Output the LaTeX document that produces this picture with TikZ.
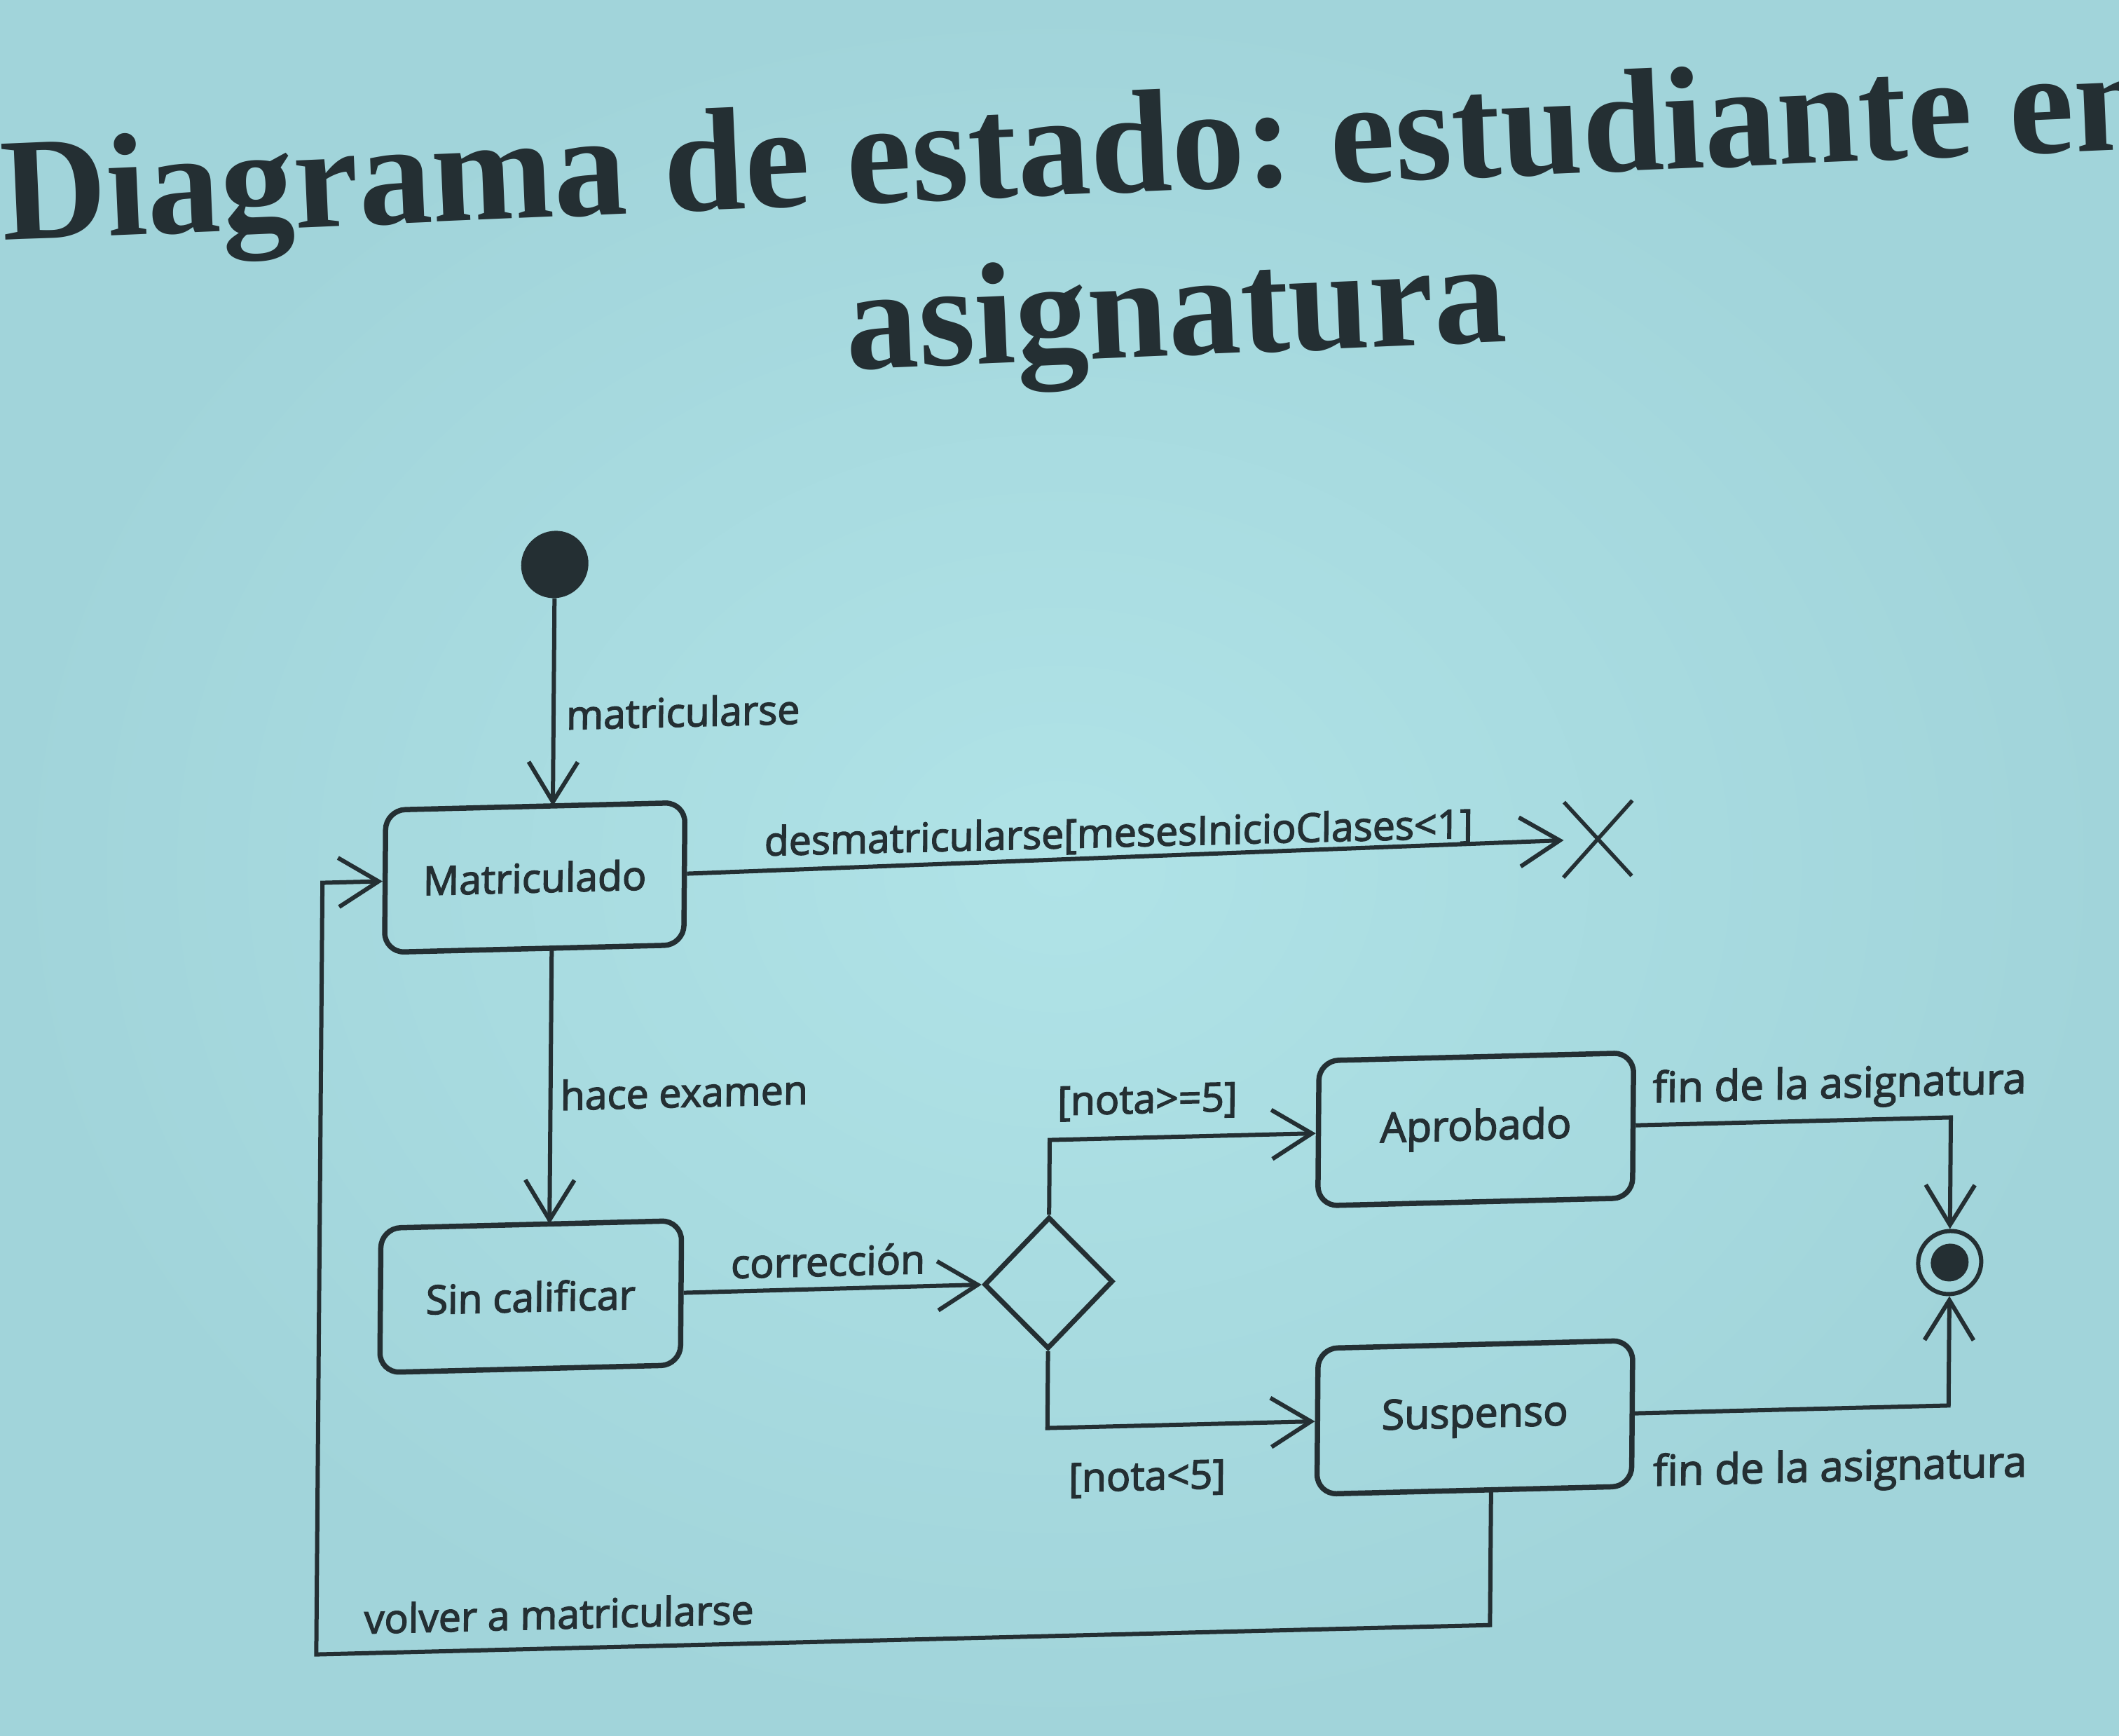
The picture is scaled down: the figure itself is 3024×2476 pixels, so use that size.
\documentclass[tikz,border=0pt]{standalone}
\usepackage{fontspec}
\usetikzlibrary{arrows.meta,shapes.geometric,shapes.misc}
\setmainfont{Liberation Serif}
\newfontfamily\lblfont{Open Sans}[RawFeature={embolden=2.5}]
\definecolor{ink}{RGB}{36,47,51}
\definecolor{bgin}{RGB}{176,227,231}
\definecolor{bgout}{RGB}{161,212,218}
\begin{document}
\begin{tikzpicture}[x=1pt,y=-1pt,
  titlefont/.style={inner sep=0pt, text=ink, font=\fontsize{209}{240}\selectfont\bfseries},
  titlefonttwo/.style={inner sep=0pt, text=ink, font=\fontsize{207}{240}\selectfont\bfseries},
  statebox/.style={draw=ink, line width=7.5pt, rounded corners=28pt, inner sep=0pt, text=ink,
    font=\lblfont\fontsize{57}{68}\selectfont},
  statebig/.style={statebox, font=\lblfont\fontsize{59}{70}\selectfont},
  lbl/.style={inner sep=0pt, text=ink, font=\lblfont\fontsize{57}{68}\selectfont},
  lblbig/.style={lbl, font=\lblfont\fontsize{60}{72}\selectfont},
  conn/.style={draw=ink, line width=6pt, -{Straight Barb[length=57pt,width=70pt]}},
  initstate/.style={circle, fill=ink, draw=none, minimum size=96pt, inner sep=0pt},
  finalring/.style={circle, draw=ink, line width=6pt, minimum size=90pt, inner sep=0pt},
  finaldot/.style={circle, fill=ink, draw=none, minimum size=54pt, inner sep=0pt},
  decision/.style={diamond, draw=ink, line width=7pt, minimum width=184pt, minimum height=188pt, inner sep=0pt},
  terminate/.style={cross out, draw=ink, line width=5.5pt, minimum width=92pt, minimum height=102pt, inner sep=0pt}
]
\useasboundingbox (0,0) rectangle (3024,2476);
\shade[inner color=bgin, outer color=bgout] (0,0) rectangle (3024,2476);

% title, first line (word by word along a slightly rising baseline)
\begin{scope}[shift={(4,343)}, rotate=2.45, every node/.append style={transform shape}]
  \node[titlefont, anchor=base west] (w1) at (0,0) {Diagrama};
  \node[titlefont, anchor=base west, xshift=52pt] (w2) at (w1.base east) {de};
  \node[titlefont, anchor=base west, xshift=52pt] (w3) at (w2.base east) {estado:};
  \node[titlefont, anchor=base west, xshift=52pt] (w4) at (w3.base east) {estudiante};
  \node[titlefont, anchor=base west, xshift=52pt] (w5) at (w4.base east) {en};
\end{scope}
% title, second line
\node[titlefonttwo, anchor=base, rotate=2.45] (t2) at (1681,507) {asignatura};

\begin{scope}[shift={(1600,1750)}, cm={1,0.025,0.008,1,(0,0)}, shift={(-1600,-1750)},
  every node/.append style={transform shape}]
  % states
  \node[initstate] (init) at (784,785) {};
  \node[statebox, minimum width=427pt, minimum height=203pt] (mat) at (759,1231) {Matriculado};
  \node[statebox, minimum width=429pt, minimum height=206pt] (sin) at (758,1829) {Sin calificar};
  \node[decision] (dec) at (1497,1828) {};
  \node[statebig, minimum width=449pt, minimum height=207pt] (apr) at (2105,1624) {Aprobado};
  \node[statebig, minimum width=449pt, minimum height=208pt] (sus) at (2107,2035) {Suspenso};
  \node[finalring] (fin) at (2783,1831) {};
  \node[finaldot] (findot) at (2783,1831) {};
  \node[terminate] (term) at (2276,1214) {};

  % waypoints
  \coordinate (matTop) at (784,1129.5);
  \coordinate (matBot) at (784,1332.5);
  \coordinate (sinTop) at (784,1726);
  \coordinate (decUp) at (1497,1624);
  \coordinate (decDn) at (1497,2035);
  \coordinate (aprR) at (2783,1624);
  \coordinate (susR) at (2783,2035);
  \coordinate (susB) at (2131,2139);
  \coordinate (loopA) at (2131,2332);
  \coordinate (loopB) at (456,2332);
  \coordinate (loopC) at (456,1231);

  % transitions
  \draw[conn] (init) -- (matTop);
  \draw[conn] (mat.east) -- (term);
  \draw[conn] (matBot) -- (sinTop);
  \draw[conn] (sin.east) -- (dec.west);
  \draw[conn] (dec.north) -- (decUp) -- (apr.west);
  \draw[conn] (dec.south) -- (decDn) -- (sus.west);
  \draw[conn] (apr.east) -- (aprR) -- (fin.north);
  \draw[conn] (sus.east) -- (susR) -- (fin.south);
  \draw[conn] (susB) -- (loopA) -- (loopB) -- (loopC) -- (mat.west);

  % labels
  \node[lbl, anchor=base west] (lm) at (802,1021) {matricularse};
  \node[lbl, anchor=base] (ld) at (1592,1208) {desmatricularse[mesesInicioClases<1]};
  \node[lbl, anchor=base west] (lh) at (798,1564) {hace examen};
  \node[lbl, anchor=base] (lc) at (1182,1810) {corrección};
  \node[lbl, anchor=base] (lg) at (1636,1589) {[nota>=5]};
  \node[lbl, anchor=base] (ll) at (1640,2127) {[nota<5]};
  \node[lblbig, anchor=base west] (lf1) at (2357,1592) {fin de la asignatura};
  \node[lblbig, anchor=base west] (lf2) at (2362,2139) {fin de la asignatura};
  \node[lbl, anchor=base west] (lv) at (524,2304) {volver a matricularse};
\end{scope}
\end{tikzpicture}
\end{document}
